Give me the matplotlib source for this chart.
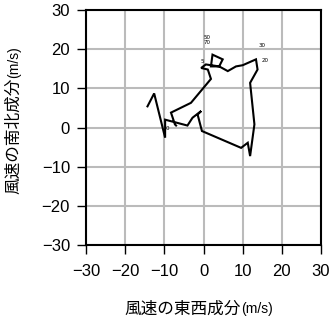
import matplotlib
matplotlib.use("Agg")
import matplotlib.pyplot as plt

# hodograph trace (east-west, north-south wind components, m/s)
u = [-7.0, -7.3, -8.3, -3.2, 1.9, 1.1, -0.6, 0.6, 4.0, 4.9, 2.3, 1.9, 4.0,
     6.2, 8.3, 10.0, 13.4, 13.8, 11.9, 13.0, 11.9, 11.3, 9.6, -0.4, -1.5,
     -0.6, -2.8, -4.1, -9.8, -9.8, -12.6, -14.3]
v = [0.5, 0.8, 3.8, 6.3, 12.4, 14.8, 15.2, 16.1, 15.6, 17.4, 18.6, 15.6, 15.6,
     14.4, 15.6, 15.9, 17.4, 14.8, 11.4, 0.8, -7.3, -3.9, -5.2, -0.9, 3.3,
     4.2, 2.5, 0.5, 2.0, -2.6, 8.7, 5.4]

# height labels next to the trace
lab_text = ["0", "5", "50", "70", "30", "20"]
lab_u = [-9.2, -0.3, 1.0, 1.0, 15.0, 15.8]
lab_v = [-0.3, 16.8, 23.0, 21.7, 20.9, 17.1]

ticks = [-30, -20, -10, 0, 10, 20, 30]

fig = plt.figure(figsize=(3.32, 3.19), dpi=100)
ax = fig.add_axes([86 / 332, 1 - 245 / 319, 235 / 332, 235 / 319])

ax.plot(u, v, color="k", lw=1.5, solid_joinstyle="miter", zorder=3)
for t, x, y in zip(lab_text, lab_u, lab_v):
    ax.text(x, y, t, fontsize=4, ha="center", va="center", zorder=4)

ax.set_xlim(-30, 30)
ax.set_ylim(-30, 30)
ax.set_xticks(ticks)
ax.set_yticks(ticks)
ax.grid(True, color="#bbbbbb", lw=1.5)
ax.set_axisbelow(True)
for s in ax.spines.values():
    s.set_linewidth(1.5)
ax.tick_params(direction="out", length=6.5, width=1, labelsize=12)
ax.tick_params(axis="x", pad=7)
ax.tick_params(axis="y", pad=5)
for lbl in ax.get_xticklabels() + ax.get_yticklabels():
    lbl.set_family(["Liberation Sans", "DejaVu Sans"])

# axis titles: CJK part plus smaller unit part
fam = ["Noto Sans CJK JP", "DejaVu Sans"]
unit_fam = ["Liberation Sans", "DejaVu Sans"]
fig.text(241 / 332, 1 - 309 / 319, "風速の東西成分", fontsize=12,
         family=fam, ha="right", va="center")
fig.text(241 / 332, 1 - 309 / 319, "(m/s)", fontsize=10,
         family=unit_fam, ha="left", va="center")
fig.text(14 / 332, 1 - 78 / 319, "風速の南北成分", fontsize=12,
         family=fam, ha="center", va="top", rotation=90)
fig.text(14 / 332, 1 - 78 / 319, "(m/s)", fontsize=10,
         family=unit_fam, ha="center", va="bottom", rotation=90)

fig.savefig("out.png", dpi=100)
